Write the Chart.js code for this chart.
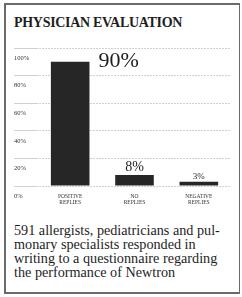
<!DOCTYPE html>
<html>
<head>
<meta charset="utf-8">
<script src="https://cdn.jsdelivr.net/npm/chart.js@4"></script>
<style>
  html, body { margin: 0; padding: 0; background: #fff; }
  #page { position: relative; width: 242px; height: 297px; overflow: hidden; font-family: "Liberation Serif", "DejaVu Serif", serif; color: #1e1e1e; }
  #marco { position: absolute; left: 4px; top: 3px; width: 233px; height: 287px; border: 2px solid #6a6a6a; border-right-width: 1px; }
  #titulo { position: absolute; left: 14px; top: 15px; font-size: 14px; font-weight: bold; letter-spacing: -0.3px; white-space: nowrap; }
  #zona { position: absolute; left: 0; top: 40px; width: 242px; height: 175px; }
  #nota { position: absolute; left: 14px; top: 223px; font-size: 14.2px; line-height: 14px; letter-spacing: 0px; white-space: nowrap; }
</style>
</head>
<body>
<div id="page">
  <div id="marco"></div>
  <div id="titulo">PHYSICIAN EVALUATION</div>
  <div id="zona"><canvas id="grafica"></canvas></div>
  <div id="nota">591 allergists, pediatricians and pul-<br>monary specialists responded in<br>writing to a questionnaire regarding<br>the performance of Newtron</div>
</div>
<script>
// Datos de la gráfica
const categorias = [['POSITIVE', 'REPLIES'], ['NO', 'REPLIES'], ['NEGATIVE', 'REPLIES']];
const porcentajes = [90, 8, 3];
const ticksY = ['0%', '20%', '40%', '60%', '80%', '100%'];

// Etiquetas de valor sobre / junto a cada barra
const etiquetasValor = {
    id: 'etiquetasValor',
    afterDatasetsDraw(chart) {
        const ctx = chart.ctx;
        const tamanos = [22, 14, 9];
        chart.getDatasetMeta(0).data.forEach((barra, i) => {
            ctx.save();
            ctx.fillStyle = '#1e1e1e';
            ctx.font = tamanos[i] + 'px "Liberation Serif", serif';
            const texto = porcentajes[i] + '%';
            if (i === 0) {
                ctx.textAlign = 'left';
                ctx.textBaseline = 'middle';
                ctx.fillText(texto, barra.x + barra.width / 2 + 9, barra.y - 1);
            } else {
                ctx.textAlign = 'center';
                ctx.textBaseline = 'bottom';
                ctx.fillText(texto, barra.x, barra.y - 1);
            }
            ctx.restore();
        });
    }
};

new Chart(document.getElementById('grafica'), {
    type: 'bar',
    data: {
        labels: categorias,
        datasets: [{
            data: porcentajes,
            backgroundColor: '#262626',
            categoryPercentage: 1,
            barPercentage: 0.6
        }]
    },
    options: {
        responsive: true,
        maintainAspectRatio: false,
        animation: false,
        layout: { padding: { left: 14, right: 11, top: 8, bottom: 0 } },
        plugins: {
            legend: { display: false },
            tooltip: { enabled: false }
        },
        scales: {
            x: {
                grid: { display: false, drawTicks: false },
                border: { display: false },
                ticks: {
                    padding: 7,
                    color: '#333',
                    font: { family: '"Liberation Serif", serif', size: 5.5 },
                    maxRotation: 0
                },
                afterFit(scale) { scale.height = 29; }
            },
            y: {
                min: 0,
                max: 100,
                ticks: {
                    stepSize: 20,
                    crossAlign: 'far',
                    labelOffset: 10,
                    padding: 0,
                    color: '#333',
                    font: { family: '"Liberation Serif", serif', size: 6.5 },
                    callback: (v) => ticksY[v / 20]
                },
                grid: {
                    color: '#d0d0d0',
                    lineWidth: 1,
                    tickLength: 24,
                    tickColor: '#d0d0d0'
                },
                border: { display: true, color: 'rgba(0,0,0,0)', dash: [2, 1] },
                afterFit(scale) { scale.width = 24; }
            }
        }
    },
    plugins: [etiquetasValor]
});
</script>
</body>
</html>
